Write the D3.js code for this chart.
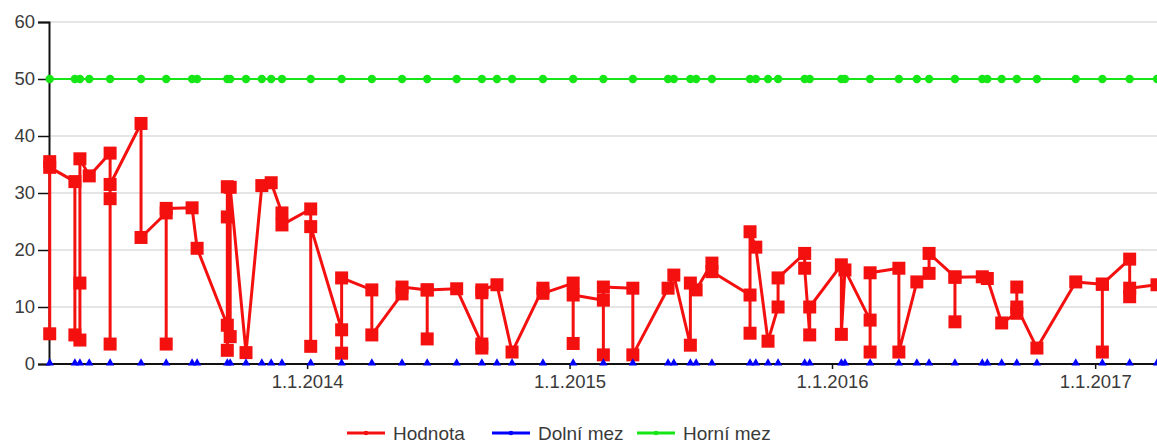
<!DOCTYPE html>
<html>
<head>
<meta charset="utf-8">
<script src="https://cdn.jsdelivr.net/npm/d3@7"></script>
<style>
  body { margin: 0; background: #fff; }
  text { font-family: "Liberation Sans", Arial, sans-serif; }
</style>
</head>
<body>
<svg></svg>
<script>
// measurement dates (one entry per sampling day)
const dates = [
  "2013-01-08", "2013-02-12", "2013-02-19", "2013-03-04", "2013-04-02",
  "2013-05-15", "2013-06-19", "2013-07-25", "2013-08-01", "2013-09-12",
  "2013-09-16", "2013-10-08", "2013-10-30", "2013-11-12", "2013-11-27",
  "2014-01-06", "2014-02-18", "2014-04-01", "2014-05-13", "2014-06-17",
  "2014-07-28", "2014-09-01", "2014-09-22", "2014-10-13", "2014-11-25",
  "2015-01-06", "2015-02-17", "2015-03-30", "2015-05-18", "2015-05-26",
  "2015-06-18", "2015-06-26", "2015-07-18", "2015-09-09", "2015-09-17",
  "2015-10-04", "2015-10-18", "2015-11-24", "2015-12-01", "2016-01-14",
  "2016-01-19", "2016-02-23", "2016-04-03", "2016-04-28", "2016-05-15",
  "2016-06-20", "2016-07-28", "2016-08-04", "2016-08-24", "2016-09-14",
  "2016-10-12", "2016-12-05", "2017-01-11", "2017-02-18", "2017-03-28"
];

// Hodnota: values measured on each date (in order)
const hodnota = [
  [5.3, 35.5, 34.5], [32, 5.1], [4.2, 14.2, 36], [33], [37, 29, 3.5, 31.5],
  [42.2, 22.2], [26.5, 3.5, 27.3], [27.4], [20.3], [6.8, 2.4, 25.8, 31.1],
  [4.8, 31], [2], [31.3], [31.8], [26.5, 24.4],
  [27.2, 3.1, 24.1], [6, 1.9, 15.1], [13, 5.1], [12.3, 13.5], [13, 4.4, 13],
  [13.2], [3.5, 2.8, 12.5, 13], [13.9], [2.1], [13.3, 12.4],
  [14.2, 3.6, 12.1], [11.2, 1.6, 13.5], [13.3, 1.6], [13.3], [15.6],
  [3.3, 14.2], [13], [17.7, 16.2], [12.1, 5.4, 23.2], [20.5],
  [4], [10, 15.1], [19.4, 16.8], [5.1, 10], [17.4, 5.2],
  [16.5], [7.7, 2.1, 16], [16.8, 2.1], [14.4], [15.9, 19.4],
  [15.3, 7.4, 15.2], [15.3], [15], [7.2], [8.9, 13.5, 10],
  [2.8], [14.4], [14, 2.1, 14], [18.4, 11.8, 13.3], [13.9]
];

// limits on each date
const dolniMez = [
  0, 0, 0, 0, 0, 0, 0, 0, 0, 0, 0, 0, 0, 0, 0, 0, 0, 0, 0, 0,
  0, 0, 0, 0, 0, 0, 0, 0, 0, 0, 0, 0, 0, 0, 0, 0, 0, 0, 0, 0,
  0, 0, 0, 0, 0, 0, 0, 0, 0, 0, 0, 0, 0, 0, 0
];
const horniMez = [
  50, 50, 50, 50, 50, 50, 50, 50, 50, 50, 50, 50, 50, 50, 50, 50, 50, 50, 50, 50,
  50, 50, 50, 50, 50, 50, 50, 50, 50, 50, 50, 50, 50, 50, 50, 50, 50, 50, 50, 50,
  50, 50, 50, 50, 50, 50, 50, 50, 50, 50, 50, 50, 50, 50, 50
];

const yTicks = [0, 10, 20, 30, 40, 50, 60];
const xTicks = ["2014-01-01", "2015-01-01", "2016-01-01", "2017-01-01"];
const seriesNames = ["Hodnota", "Dolní mez", "Horní mez"];

const W = 1157, H = 442;
const margin = {top: 22, right: 0, bottom: 78, left: 49};
const parseDate = d3.timeParse("%Y-%m-%d");
const fmt = d3.timeFormat("%-d.%-m.%Y");

const x = d3.scaleTime()
  .domain([parseDate("2013-01-07"), parseDate("2017-03-28")])
  .range([margin.left, W - margin.right]);
const y = d3.scaleLinear()
  .domain([0, 60])
  .range([H - margin.bottom, margin.top]);

const svg = d3.select("svg").attr("width", W).attr("height", H);

// grid
svg.append("g").selectAll("line").data(yTicks.filter(t => t > 0)).join("line")
  .attr("x1", margin.left).attr("x2", W)
  .attr("y1", d => y(d)).attr("y2", d => y(d))
  .attr("stroke", "#dcdcdc").attr("stroke-width", 1.5);

// limits lines (under axes)
const pts = (arr) => dates.map((d, i) => ({date: parseDate(d), v: arr[i]}));
const lowPts = pts(dolniMez), highPts = pts(horniMez);
const line = d3.line().x(d => x(d.date)).y(d => y(d.v));

svg.append("path").datum(lowPts).attr("d", line)
  .attr("fill", "none").attr("stroke", "#0000ff").attr("stroke-width", 2);

// axes
const yAxis = svg.append("g")
  .attr("transform", `translate(${margin.left},0)`)
  .call(d3.axisLeft(y).tickValues(yTicks).tickSize(11).tickPadding(3));
const xAxis = svg.append("g")
  .attr("transform", `translate(0,${y(0)})`)
  .call(d3.axisBottom(x).tickValues(xTicks.map(parseDate)).tickFormat(fmt).tickSize(5).tickPadding(6));
[yAxis, xAxis].forEach(a => {
  a.select(".domain").attr("stroke", "#111").attr("stroke-width", 2);
  a.selectAll(".tick line").attr("stroke", "#111").attr("stroke-width", 1.5);
  a.selectAll("text").attr("font-size", 18.5).attr("fill", "#3a3a3a")
    .style("font-family", "'Liberation Sans', Arial, sans-serif");
});
xAxis.select(".domain").attr("d", `M${margin.left},0H${W}`);

// Horní mez
svg.append("path").datum(highPts).attr("d", line)
  .attr("fill", "none").attr("stroke", "#16e616").attr("stroke-width", 2);
svg.append("g").selectAll("circle").data(highPts).join("circle")
  .attr("cx", d => x(d.date)).attr("cy", d => y(d.v)).attr("r", 4.2)
  .attr("fill", "#16e616");

// Hodnota
const valPts = [];
dates.forEach((d, i) => hodnota[i].forEach(v => valPts.push({date: parseDate(d), v})));
svg.append("path").datum(valPts).attr("d", line)
  .attr("fill", "none").attr("stroke", "#f51010").attr("stroke-width", 3)
  .attr("stroke-linejoin", "round");
svg.append("g").selectAll("rect").data(valPts).join("rect")
  .attr("x", d => x(d.date) - 6.5).attr("y", d => y(d.v) - 6.5)
  .attr("width", 13).attr("height", 13)
  .attr("fill", "#f51010");

// Dolní mez markers
const tri = d3.symbol().type(d3.symbolTriangle).size(30);
svg.append("g").selectAll("path").data(lowPts).join("path")
  .attr("d", tri)
  .attr("transform", d => `translate(${x(d.date)},${y(d.v) - 1})`)
  .attr("fill", "#0000ff");

// legend
const legendColors = ["#f51010", "#0000ff", "#16e616"];
const legendX = [347, 492, 637];
const leg = svg.append("g").attr("transform", "translate(0,433)");
seriesNames.forEach((name, i) => {
  const g = leg.append("g").attr("transform", `translate(${legendX[i]},0)`);
  g.append("line").attr("x1", 0).attr("x2", 38).attr("y1", 0).attr("y2", 0)
    .attr("stroke", legendColors[i]).attr("stroke-width", 3);
  g.append("circle").attr("cx", 19).attr("cy", 0).attr("r", 2.3).attr("fill", legendColors[i]);
  g.append("text").attr("x", 46).attr("y", 6.5).attr("font-size", 19).attr("fill", "#3a3a3a")
    .text(name);
});
</script>
</body>
</html>
